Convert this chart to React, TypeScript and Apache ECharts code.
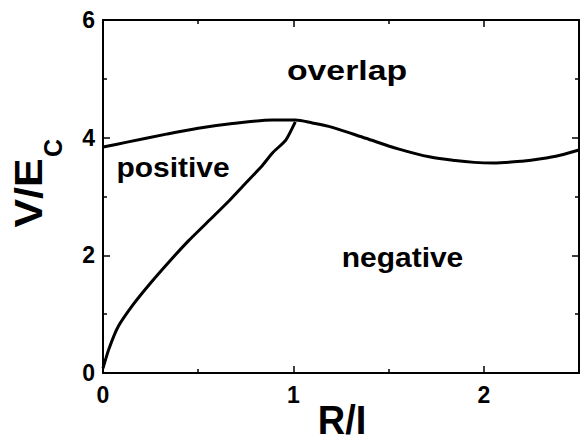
import React, { useEffect, useRef } from "react";
import * as echarts from "echarts";

const upperX = [0, 0.12, 0.333, 0.5, 0.68, 0.89, 1.01, 1.1, 1.2, 1.38, 1.55, 1.72, 1.85, 1.95, 2.05, 2.2, 2.3, 2.4, 2.5];
const upperY = [3.84, 3.92, 4.06, 4.16, 4.24, 4.3, 4.3, 4.25, 4.18, 3.99, 3.81, 3.67, 3.61, 3.58, 3.57, 3.6, 3.64, 3.7, 3.79];

const lowerX = [0, 0.03, 0.08, 0.16, 0.25, 0.35, 0.45, 0.56, 0.66, 0.75, 0.83, 0.89, 0.96, 1.01];
const lowerY = [0.08, 0.4, 0.79, 1.17, 1.53, 1.9, 2.25, 2.6, 2.92, 3.23, 3.5, 3.74, 3.96, 4.27];

const regionLabels = ["overlap", "positive", "negative"];
const xTitle = "R/I";
const yTitleMain = "V/E";
const yTitleSub = "C";

const FONT = "'Liberation Sans', Arial, Helvetica, sans-serif";

export default function App() {
  const ref = useRef<HTMLDivElement>(null);
  useEffect(() => {
    document.body.style.margin = "0";
    if (!ref.current) return;
    const chart = echarts.init(ref.current, undefined, { renderer: "svg" });
    const axisCommon = {
      type: "value" as const,
      axisLine: { show: true, onZero: false, lineStyle: { color: "#000", width: 2 } },
      axisTick: { show: true, inside: true, length: 7, lineStyle: { color: "#000", width: 1.5 } },
      minorTick: { show: true, splitNumber: 2, length: 4, lineStyle: { color: "#000", width: 1.5 } },
      splitLine: { show: false },
      minorSplitLine: { show: false },
    };
    const labelStyle = {
      color: "#000",
      fontFamily: FONT,
      fontWeight: "bold" as const,
      fontSize: 23,
    };
    const txt = (text: string, x: number, y: number, size: number, scaleX: number, rotation = 0) => ({
      type: "text",
      x,
      y,
      rotation,
      scaleX,
      style: {
        text,
        font: `bold ${size}px ${FONT}`,
        fill: "#000",
        textAlign: "center",
        textVerticalAlign: "middle",
      },
    });
    chart.setOption({
      animation: false,
      backgroundColor: "#fff",
      grid: { left: 103, right: 2, top: 20, bottom: 68, containLabel: false },
      xAxis: [
        {
          ...axisCommon,
          position: "bottom",
          min: 0,
          max: 2.5,
          interval: 1,
          axisLabel: {
            ...labelStyle,
            margin: 10,
            formatter: (v: number) => (Number.isInteger(v) ? String(v) : ""),
          },
        },
        {
          ...axisCommon,
          position: "top",
          min: 0,
          max: 2.5,
          interval: 1,
          axisLabel: { show: false },
        },
      ],
      yAxis: [
        {
          ...axisCommon,
          position: "left",
          min: 0,
          max: 6,
          interval: 2,
          axisLabel: { ...labelStyle, margin: 8 },
        },
        {
          ...axisCommon,
          position: "right",
          min: 0,
          max: 6,
          interval: 2,
          axisLabel: { show: false },
        },
      ],
      series: [
        {
          type: "line",
          data: upperX.map((x, i) => [x, upperY[i]]),
          showSymbol: false,
          smooth: 0.3,
          lineStyle: { color: "#000", width: 3 },
          silent: true,
        },
        {
          type: "line",
          data: lowerX.map((x, i) => [x, lowerY[i]]),
          showSymbol: false,
          smooth: 0.2,
          lineStyle: { color: "#000", width: 3 },
          silent: true,
        },
      ],
      graphic: [
        txt(regionLabels[0], 347, 70, 27, 1.25),
        txt(regionLabels[1], 173, 167.5, 27, 1.11),
        txt(regionLabels[2], 402.5, 257.5, 27, 1.11),
        txt(xTitle, 342, 420, 40, 0.95),
        txt(yTitleMain, 29, 193, 39, 1.1, Math.PI / 2),
        txt(yTitleSub, 52.5, 148, 25, 1, Math.PI / 2),
      ],
    });
    return () => chart.dispose();
  }, []);
  return <div ref={ref} style={{ width: 582, height: 441 }} />;
}
